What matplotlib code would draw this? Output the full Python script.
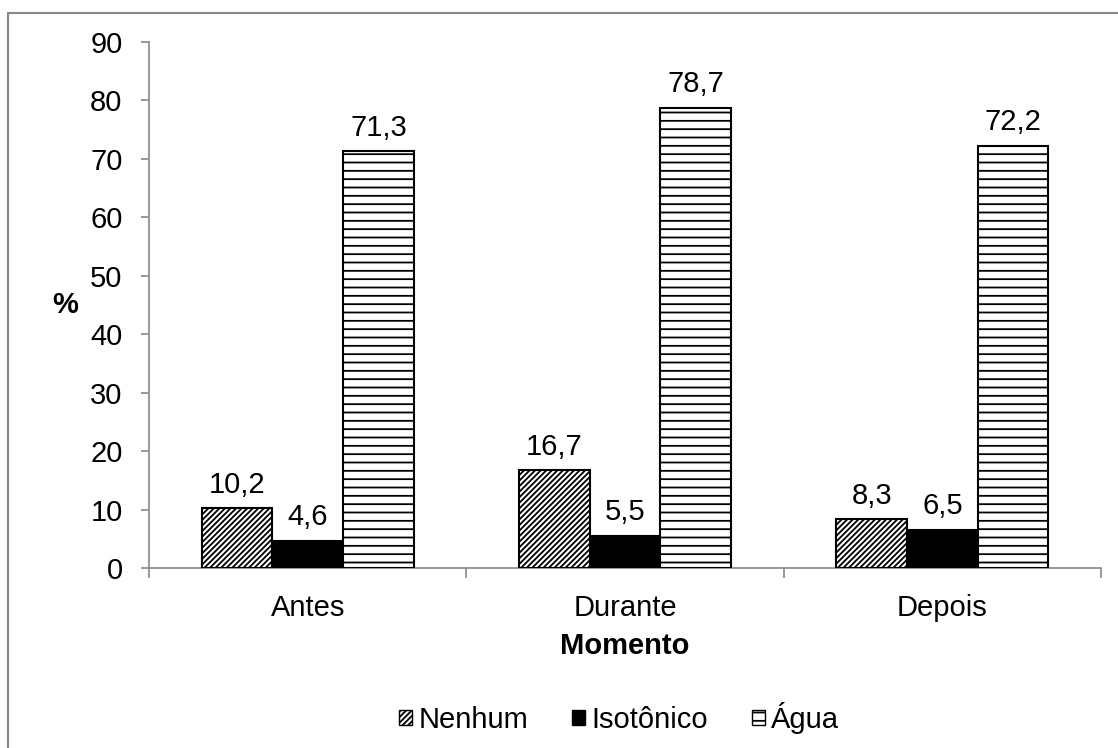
import matplotlib
matplotlib.use("Agg")
import matplotlib.pyplot as plt
from matplotlib.patches import Rectangle, Patch
import numpy as np

plt.rcParams['font.family'] = ['Liberation Sans', 'DejaVu Sans']
plt.rcParams['hatch.linewidth'] = 1.3

categories = ["Antes", "Durante", "Depois"]
series_names = ["Nenhum", "Isotônico", "Água"]
nenhum = [10.2, 16.7, 8.3]
isotonico = [4.6, 5.5, 6.5]
agua = [71.3, 78.7, 72.2]
y_ticks = [0, 10, 20, 30, 40, 50, 60, 70, 80, 90]

FS = 21

fig = plt.figure(figsize=(11.18, 7.48), dpi=100)
ax = fig.add_axes([149 / 1118, 1 - 568 / 748, (1101 - 149) / 1118, (568 - 42) / 748])

x = np.arange(len(categories))
w = 0.223
styles = [
    dict(facecolor="white", hatch="//////"),
    dict(facecolor="black", hatch=None),
    dict(facecolor="white", hatch="--"),
]
handles = []
for i, (vals, st, name) in enumerate(zip([nenhum, isotonico, agua], styles, series_names)):
    bars = ax.bar(x + (i - 1) * w, vals, width=w, edgecolor="black", linewidth=1.5,
                  zorder=3, **st)
    for b, v in zip(bars, vals):
        ax.annotate(f"{v:.1f}".replace(".", ","), (b.get_x() + b.get_width() / 2, v),
                    xytext=(0, 7), textcoords="offset points", ha="center", va="bottom",
                    fontsize=FS)
    handles.append(Patch(facecolor=st["facecolor"], edgecolor="black", hatch=st["hatch"],
                         linewidth=1.0, label=name))

ax.set_xlim(-0.5, 2.5)
ax.set_ylim(0, 90)
ax.set_yticks(y_ticks)
ax.set_xticks(x)
ax.set_xticklabels(categories)
ax.set_xticks([-0.5, 0.5, 1.5, 2.5], minor=True)
ax.tick_params(axis="x", which="major", length=0, labelsize=FS, pad=19)
ax.tick_params(axis="x", which="minor", length=7, width=1.2, color="#888888", direction="out")
ax.tick_params(axis="y", length=6, width=1.2, color="#888888", labelsize=FS, pad=13)

for s in ["top", "right"]:
    ax.spines[s].set_visible(False)
for s in ["left", "bottom"]:
    ax.spines[s].set_color("#888888")
    ax.spines[s].set_linewidth(1.2)

ax.set_xlabel("Momento", fontsize=FS, fontweight="bold", labelpad=7)
ax.set_ylabel("%", fontsize=FS, fontweight="bold", rotation=0, va="center", ha="center")
ax.yaxis.set_label_coords(-0.088, 0.5)

fig.legend(handles=handles, loc="center", bbox_to_anchor=(619 / 1118, 1 - 718 / 748),
           ncol=3, frameon=False, fontsize=FS, handlelength=0.45, handleheight=0.45,
           handletextpad=0.22, columnspacing=1.5)

fig.patches.append(Rectangle((8 / 1118, -0.05), 1.2, 1 - 13 / 748 + 0.05,
                             transform=fig.transFigure, fill=False,
                             edgecolor="#888888", linewidth=1.5))

fig.savefig("out.png", dpi=100)
